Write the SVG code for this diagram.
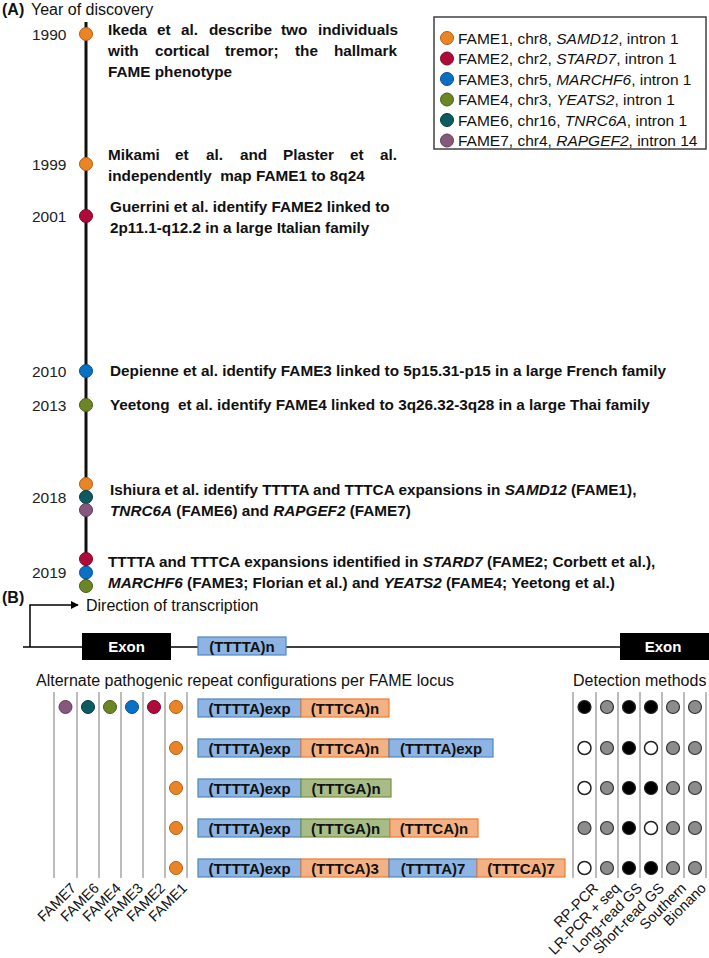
<svg xmlns="http://www.w3.org/2000/svg" width="709" height="958" viewBox="0 0 709 958">
<defs>
<marker id="arr" viewBox="0 0 10 10" refX="9" refY="5" markerWidth="8" markerHeight="8" markerUnits="userSpaceOnUse" orient="auto"><path d="M0,0 L10,5 L0,10 z" fill="#000"/></marker>
</defs>
<style>
text{font-family:"Liberation Sans",Arial,sans-serif;fill:#111}
.b{font-weight:bold;font-size:15.3px}
.yr{font-size:15.5px;fill:#222}
.lg{font-size:15.5px}
.hd{font-size:16px}
.pl{font-weight:bold;font-size:16px}
.i{font-style:italic}
.rot{font-size:14.5px;text-anchor:end}
.rep{font-weight:bold;font-size:15px;text-anchor:middle}
.exon{font-weight:bold;font-size:15px;text-anchor:middle;fill:#fff}
.f1{fill:#EB8424;stroke:#B0601A;stroke-width:1}
.f2{fill:#B00A3A;stroke:#7A0626;stroke-width:1}
.f3{fill:#0A70C4;stroke:#06508C;stroke-width:1}
.f4{fill:#6C8626;stroke:#4A5C18;stroke-width:1}
.f6{fill:#0D5A60;stroke:#073C40;stroke-width:1}
.f7{fill:#86587E;stroke:#5C3C57;stroke-width:1}
.tl{stroke:#111;stroke-width:3;fill:none}
.vl{stroke:#A6A6A6;stroke-width:1.5}
.blu{fill:#8DB4E2;stroke:#4F86C6;stroke-width:1.2}
.org{fill:#F4B183;stroke:#ED7D31;stroke-width:1.2}
.grn{fill:#A8BC88;stroke:#77933C;stroke-width:1.2}
.dk{fill:#000;stroke:#222;stroke-width:1.2}
.gy{fill:#8C8C8C;stroke:#333;stroke-width:1.2}
.wh{fill:#fff;stroke:#222;stroke-width:1.5}
</style>
<rect width="709" height="958" fill="#fff"/>

<!-- Panel A -->
<g id="panelA-title">
<text x="2" y="15" class="pl">(A)</text>
<text x="31" y="15" class="hd">Year of discovery</text>
</g>
<g id="connectors">
<line class="tl" x1="86" y1="22" x2="86" y2="592"/>
<path d="M30,647 V605 H78" fill="none" stroke="#000" stroke-width="1.5" marker-end="url(#arr)"/>
<line x1="23" y1="647" x2="620" y2="647" stroke="#000" stroke-width="1.5"/>
<g id="grid-lines">
<line class="vl" x1="54" y1="692" x2="54" y2="878"/>
<line class="vl" x1="77" y1="692" x2="77" y2="878"/>
<line class="vl" x1="99" y1="692" x2="99" y2="878"/>
<line class="vl" x1="121" y1="692" x2="121" y2="878"/>
<line class="vl" x1="143" y1="692" x2="143" y2="878"/>
<line class="vl" x1="165" y1="692" x2="165" y2="878"/>
<line class="vl" x1="187" y1="692" x2="187" y2="878"/>
<line class="vl" x1="573" y1="692" x2="573" y2="878"/>
<line class="vl" x1="596" y1="692" x2="596" y2="878"/>
<line class="vl" x1="618" y1="692" x2="618" y2="878"/>
<line class="vl" x1="640" y1="692" x2="640" y2="878"/>
<line class="vl" x1="662" y1="692" x2="662" y2="878"/>
<line class="vl" x1="684" y1="692" x2="684" y2="878"/>
<line class="vl" x1="706" y1="692" x2="706" y2="878"/>
</g>
</g>

<g id="ev1990">
<circle cx="86" cy="34" r="6.5" class="f1"/>
<text x="32" y="39.5" class="yr">1990</text>
<text class="b" y="34.5"><tspan x="108">Ikeda</tspan><tspan x="157">et</tspan><tspan x="181">al.</tspan><tspan x="209">describe</tspan><tspan x="281">two</tspan><tspan x="318">individuals</tspan></text>
<text class="b" y="55.5"><tspan x="108">with</tspan><tspan x="155">cortical</tspan><tspan x="225">tremor;</tspan><tspan x="295">the</tspan><tspan x="334">hallmark</tspan></text>
<text class="b" x="108" y="76.5">FAME phenotype</text>
</g>
<g id="ev1999">
<circle cx="86" cy="164" r="6.5" class="f1"/>
<text x="32" y="169.5" class="yr">1999</text>
<text class="b" y="160"><tspan x="108">Mikami</tspan><tspan x="175">et</tspan><tspan x="206">al.</tspan><tspan x="240">and</tspan><tspan x="283">Plaster</tspan><tspan x="350">et</tspan><tspan x="380">al.</tspan></text>
<text class="b" x="108" y="181" xml:space="preserve">independently  map FAME1 to 8q24</text>
</g>
<g id="ev2001">
<circle cx="86" cy="216" r="6.5" class="f2"/>
<text x="32" y="221.5" class="yr">2001</text>
<text class="b" x="110" y="212">Guerrini et al. identify FAME2 linked to</text>
<text class="b" x="110" y="232.5">2p11.1-q12.2 in a large Italian family</text>
</g>
<g id="ev2010">
<circle cx="86" cy="371" r="6.5" class="f3"/>
<text x="32" y="376.5" class="yr">2010</text>
<text class="b" x="110" y="376">Depienne et al. identify FAME3 linked to 5p15.31-p15 in a large French family</text>
</g>
<g id="ev2013">
<circle cx="86" cy="405" r="6.5" class="f4"/>
<text x="32" y="410.5" class="yr">2013</text>
<text class="b" x="110" y="410" xml:space="preserve">Yeetong  et al. identify FAME4 linked to 3q26.32-3q28 in a large Thai family</text>
</g>
<g id="ev2018">
<circle cx="86" cy="484" r="6.5" class="f1"/>
<circle cx="86" cy="497" r="6.5" class="f6"/>
<circle cx="86" cy="510" r="6.5" class="f7"/>
<text x="32" y="502.5" class="yr">2018</text>
<text class="b" x="110" y="495">Ishiura et al. identify TTTTA and TTTCA expansions in <tspan class="i">SAMD12</tspan> (FAME1),</text>
<text class="b" x="110" y="515.5"><tspan class="i">TNRC6A</tspan> (FAME6) and <tspan class="i">RAPGEF2</tspan> (FAME7)</text>
</g>
<g id="ev2019">
<circle cx="86" cy="559" r="6.5" class="f2"/>
<circle cx="86" cy="572.5" r="6.5" class="f3"/>
<circle cx="86" cy="586" r="6.5" class="f4"/>
<text x="32" y="578" class="yr">2019</text>
<text class="b" x="108" y="567">TTTTA and TTTCA expansions identified in <tspan class="i">STARD7</tspan> (FAME2; Corbett et al.),</text>
<text class="b" x="108" y="587.5"><tspan class="i">MARCHF6</tspan> (FAME3; Florian et al.) and <tspan class="i">YEATS2</tspan> (FAME4; Yeetong et al.)</text>
</g>

<g id="legend">
<rect x="434" y="17" width="272" height="132" fill="#fff" stroke="#404040" stroke-width="1.5"/>
<circle cx="447" cy="38" r="6.5" class="f1"/>
<text x="458" y="43.5" class="lg">FAME1, chr8, <tspan class="i">SAMD12</tspan>, intron 1</text>
<circle cx="447" cy="58.5" r="6.5" class="f2"/>
<text x="458" y="64" class="lg">FAME2, chr2, <tspan class="i">STARD7</tspan>, intron 1</text>
<circle cx="447" cy="79" r="6.5" class="f3"/>
<text x="458" y="84.5" class="lg">FAME3, chr5, <tspan class="i">MARCHF6</tspan>, intron 1</text>
<circle cx="447" cy="99.5" r="6.5" class="f4"/>
<text x="458" y="105" class="lg">FAME4, chr3, <tspan class="i">YEATS2</tspan>, intron 1</text>
<circle cx="447" cy="120" r="6.5" class="f6"/>
<text x="458" y="125.5" class="lg">FAME6, chr16, <tspan class="i">TNRC6A</tspan>, intron 1</text>
<circle cx="447" cy="140.5" r="6.5" class="f7"/>
<text x="458" y="146" class="lg">FAME7, chr4, <tspan class="i">RAPGEF2</tspan>, intron 14</text>
</g>

<!-- Panel B -->
<g id="panelB-title">
<text x="2" y="603" class="pl">(B)</text>
<text x="86" y="611" class="hd">Direction of transcription</text>
</g>
<g id="exon1">
<rect x="82" y="633" width="89" height="27" fill="#000"/>
<text x="126.5" y="652" class="exon">Exon</text>
</g>
<g id="repeat-n">
<rect x="198" y="637" width="88" height="18" class="blu"/>
<text x="242" y="651.5" class="rep">(TTTTA)n</text>
</g>
<g id="exon2">
<rect x="620" y="633" width="89" height="27" fill="#000"/>
<text x="663" y="652" class="exon">Exon</text>
</g>
<g id="headers">
<text x="36" y="686" class="hd">Alternate pathogenic repeat configurations per FAME locus</text>
<text x="573" y="686" class="hd">Detection methods</text>
</g>

<g id="loci-dots">
<circle cx="65.5" cy="707" r="6.5" class="f7"/>
<circle cx="88" cy="707" r="6.5" class="f6"/>
<circle cx="110" cy="707" r="6.5" class="f4"/>
<circle cx="132" cy="707" r="6.5" class="f3"/>
<circle cx="154" cy="707" r="6.5" class="f2"/>
<circle cx="176" cy="707" r="6.5" class="f1"/>
<circle cx="176" cy="748" r="6.5" class="f1"/>
<circle cx="176" cy="788" r="6.5" class="f1"/>
<circle cx="176" cy="828" r="6.5" class="f1"/>
<circle cx="176" cy="868" r="6.5" class="f1"/>
</g>

<g id="config1">
<rect x="198" y="699" width="103" height="18" class="blu"/>
<rect x="301" y="699" width="88" height="18" class="org"/>
<text x="249.5" y="713.5" class="rep">(TTTTA)exp</text>
<text x="345" y="713.5" class="rep">(TTTCA)n</text>
</g>
<g id="config2">
<rect x="198" y="739" width="103" height="18" class="blu"/>
<rect x="301" y="739" width="88" height="18" class="org"/>
<rect x="389" y="739" width="104" height="18" class="blu"/>
<text x="249.5" y="753.5" class="rep">(TTTTA)exp</text>
<text x="345" y="753.5" class="rep">(TTTCA)n</text>
<text x="441" y="753.5" class="rep">(TTTTA)exp</text>
</g>
<g id="config3">
<rect x="198" y="779" width="103" height="18" class="blu"/>
<rect x="301" y="779" width="90" height="18" class="grn"/>
<text x="249.5" y="793.5" class="rep">(TTTTA)exp</text>
<text x="346" y="793.5" class="rep">(TTTGA)n</text>
</g>
<g id="config4">
<rect x="198" y="819" width="103" height="18" class="blu"/>
<rect x="301" y="819" width="89" height="18" class="grn"/>
<rect x="390" y="819" width="88" height="18" class="org"/>
<text x="249.5" y="833.5" class="rep">(TTTTA)exp</text>
<text x="345.5" y="833.5" class="rep">(TTTGA)n</text>
<text x="434" y="833.5" class="rep">(TTTCA)n</text>
</g>
<g id="config5">
<rect x="198" y="859" width="103" height="18" class="blu"/>
<rect x="301" y="859" width="88" height="18" class="org"/>
<rect x="389" y="859" width="88" height="18" class="blu"/>
<rect x="477" y="859" width="88" height="18" class="org"/>
<text x="249.5" y="873.5" class="rep">(TTTTA)exp</text>
<text x="345" y="873.5" class="rep">(TTTCA)3</text>
<text x="433" y="873.5" class="rep">(TTTTA)7</text>
<text x="521" y="873.5" class="rep">(TTTCA)7</text>
</g>

<g id="detection-dots">
<circle cx="584.5" cy="707" r="6.5" class="dk"/><circle cx="607" cy="707" r="6.5" class="gy"/><circle cx="629" cy="707" r="6.5" class="dk"/><circle cx="651" cy="707" r="6.5" class="dk"/><circle cx="673" cy="707" r="6.5" class="gy"/><circle cx="695" cy="707" r="6.5" class="gy"/>
<circle cx="584.5" cy="748" r="6.5" class="wh"/><circle cx="607" cy="748" r="6.5" class="gy"/><circle cx="629" cy="748" r="6.5" class="dk"/><circle cx="651" cy="748" r="6.5" class="wh"/><circle cx="673" cy="748" r="6.5" class="gy"/><circle cx="695" cy="748" r="6.5" class="gy"/>
<circle cx="584.5" cy="788" r="6.5" class="wh"/><circle cx="607" cy="788" r="6.5" class="gy"/><circle cx="629" cy="788" r="6.5" class="dk"/><circle cx="651" cy="788" r="6.5" class="dk"/><circle cx="673" cy="788" r="6.5" class="gy"/><circle cx="695" cy="788" r="6.5" class="gy"/>
<circle cx="584.5" cy="828" r="6.5" class="gy"/><circle cx="607" cy="828" r="6.5" class="gy"/><circle cx="629" cy="828" r="6.5" class="dk"/><circle cx="651" cy="828" r="6.5" class="wh"/><circle cx="673" cy="828" r="6.5" class="gy"/><circle cx="695" cy="828" r="6.5" class="gy"/>
<circle cx="584.5" cy="868" r="6.5" class="wh"/><circle cx="607" cy="868" r="6.5" class="gy"/><circle cx="629" cy="868" r="6.5" class="dk"/><circle cx="651" cy="868" r="6.5" class="dk"/><circle cx="673" cy="868" r="6.5" class="gy"/><circle cx="695" cy="868" r="6.5" class="gy"/>
</g>

<g id="locus-labels">
<text class="rot" transform="translate(77,889) rotate(-45)">FAME7</text>
<text class="rot" transform="translate(100,889) rotate(-45)">FAME6</text>
<text class="rot" transform="translate(122,889) rotate(-45)">FAME4</text>
<text class="rot" transform="translate(144,889) rotate(-45)">FAME3</text>
<text class="rot" transform="translate(166,889) rotate(-45)">FAME2</text>
<text class="rot" transform="translate(188,889) rotate(-45)">FAME1</text>
</g>
<g id="method-labels">
<text class="rot" transform="translate(599,889) rotate(-45)">RP-PCR</text>
<text class="rot" transform="translate(621,889) rotate(-45)">LR-PCR + seq</text>
<text class="rot" transform="translate(643,889) rotate(-45)">Long-read GS</text>
<text class="rot" transform="translate(665,889) rotate(-45)">Short-read GS</text>
<text class="rot" transform="translate(687,889) rotate(-45)">Southern</text>
<text class="rot" transform="translate(707,889) rotate(-45)">Bionano</text>
</g>
</svg>
